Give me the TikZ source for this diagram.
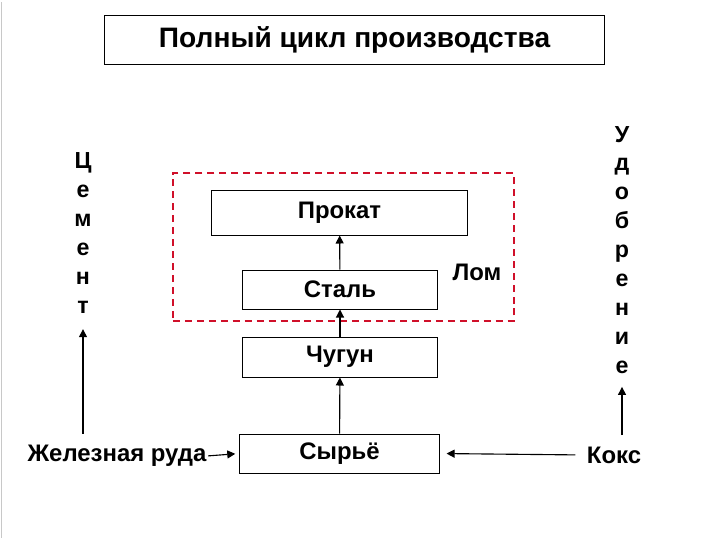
\documentclass[tikz,border=0pt]{standalone}
\usepackage{fontspec}
\setmainfont{Liberation Sans}
\usepackage{xcolor}
\definecolor{cLine}{HTML}{000000}
\definecolor{cScrap}{HTML}{D0102A}
\definecolor{cEdge}{HTML}{C8C8C8}
\usetikzlibrary{positioning,arrows.meta,calc}
\tikzset{
  node-box/.style={draw=cLine,line width=0.7pt,inner sep=0pt,align=center,
    font=\fontsize{17}{20}\selectfont\bfseries},
  node-title/.style={node-box,font=\fontsize{20}{24}\selectfont\bfseries},
  node-label/.style={inner sep=0pt,align=center,font=\fontsize{17}{20}\selectfont\bfseries},
  node-vert/.style={inner sep=0pt,align=center,font=\fontsize{16.5}{20.6}\selectfont\bfseries},
  scrap-frame/.style={draw=cScrap,line width=1.4pt,dash pattern=on 5pt off 3.5pt,inner sep=0pt},
  arrow/.style={-{Triangle[length=2mm,width=2mm]},line width=0.8pt,draw=cLine},
}
\begin{document}
\begin{tikzpicture}[x=0.025cm,y=-0.025cm]
  \useasboundingbox (0,0) rectangle (720,540);
  \draw[cEdge,line width=0.8pt] (1.5,2) -- (1.5,538);
  % заголовок
  \node[node-title,minimum width=12.475cm,minimum height=1.225cm] (title) at (354.5,39.5) {Полный цикл производства};
  % цепочка передела
  \node[scrap-frame,minimum width=8.525cm,minimum height=3.7cm] (frame) at (343.5,247) {};
  \node[node-box,minimum width=6.375cm,minimum height=1.125cm] (prokat) at (339.5,212.5) {Прокат};
  \node[node-box,minimum width=4.85cm,minimum height=0.975cm] (stal) at (340,289.5) {Сталь};
  \node[node-box,minimum width=4.85cm,minimum height=1cm] (chugun) at (340,357) {Чугун};
  \node[node-box,minimum width=4.975cm,minimum height=0.975cm] (syrye) at (339.5,453.5) {Сырьё};
  \node[node-label] (lom) at (477,272) {Лом};
  % сырьё и побочные продукты
  \node[node-label] (ruda) at (117,456) {Железная руда};
  \node[node-label] (koks) at (614,455) {Кокс};
  \node[node-vert] (cement) at (83,233) {Ц\\е\\м\\е\\н\\т};
  \node[node-vert] (udobr) at (622,250) {У\\д\\о\\б\\р\\е\\н\\и\\е};
  \draw[arrow] (syrye) -- (chugun);
  \draw[arrow] (chugun) -- (stal);
  \draw[arrow] (stal) -- (prokat);
  \draw[arrow,shorten <=1pt,shorten >=3pt] (ruda.east) -- (syrye.west);
  \draw[arrow,shorten <=8pt,shorten >=5pt] (koks.west) -- (syrye.east);
  \draw[arrow,shorten <=8pt,shorten >=11pt] (cement |- ruda.north) -- (cement.south);
  \draw[arrow,shorten <=8pt,shorten >=9pt] (udobr |- koks.north) -- (udobr.south);
\end{tikzpicture}
\end{document}
